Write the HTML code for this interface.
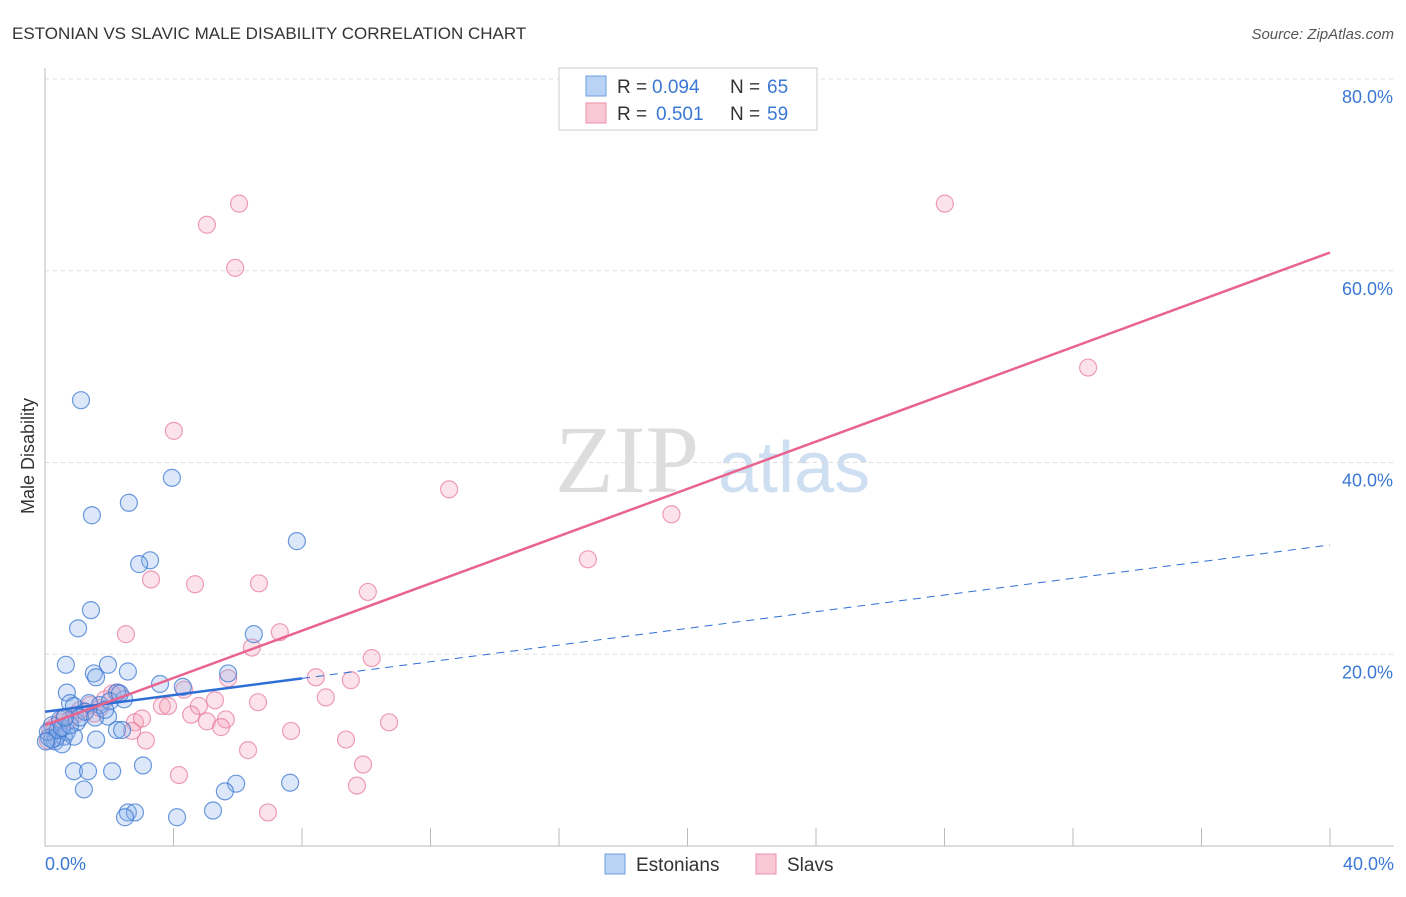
<!DOCTYPE html>
<html><head><meta charset="utf-8"><style>
body{margin:0;background:#fff;font-family:"Liberation Sans",sans-serif}
#wrap{position:relative;width:1406px;height:892px}
</style></head><body>
<div id="wrap">
<svg id="svg" width="1406" height="892">
<text x="12" y="39" font-size="17" fill="#333">ESTONIAN VS SLAVIC MALE DISABILITY CORRELATION CHART</text>
<text x="1394" y="39" font-size="15" fill="#555" text-anchor="end" font-style="italic">Source: ZipAtlas.com</text>
<text x="555" y="492" font-size="96" fill="#ddd" font-family="Liberation Serif">ZIP</text>
<text x="718" y="492" font-size="72" fill="#cfdff2">atlas</text>
<text transform="translate(34,456) rotate(-90)" font-size="18" fill="#333" text-anchor="middle">Male Disability</text>
<g id="grid"></g><g id="pts"></g><g id="lines"></g>
<g>
<rect x="559" y="68" width="258" height="62" fill="#fff" stroke="#ccc"/>
<rect x="586" y="76" width="20" height="20" fill="#b9d3f4" stroke="#6a9fe0"/>
<rect x="586" y="103" width="20" height="20" fill="#f9c8d6" stroke="#ec8fab"/>
<text x="617" y="93" font-size="19" fill="#333">R =</text>
<text x="652" y="93" font-size="19" fill="#3a78d4">0.094</text>
<text x="730" y="93" font-size="19" fill="#333">N =</text>
<text x="767" y="93" font-size="19" fill="#3a78d4">65</text>
<text x="617" y="120" font-size="19" fill="#333">R =</text>
<text x="656" y="120" font-size="19" fill="#3a78d4">0.501</text>
<text x="730" y="120" font-size="19" fill="#333">N =</text>
<text x="767" y="120" font-size="19" fill="#3a78d4">59</text>
</g>
<g>
<rect x="605" y="854" width="20" height="20" fill="#b9d3f4" stroke="#6a9fe0"/>
<text x="636" y="871" font-size="19" fill="#333">Estonians</text>
<rect x="756" y="854" width="20" height="20" fill="#f9c8d6" stroke="#ec8fab"/>
<text x="787" y="871" font-size="19" fill="#333">Slavs</text>
</g>
<text x="45" y="870" font-size="18" fill="#3a78d4">0.0%</text>
<text x="1394" y="870" font-size="18" fill="#3a78d4" text-anchor="end">40.0%</text>
</svg></div>
<script>
const yTicks=[20,40,60,80];
const xTickVals=[0,4,8,12,16,20,24,28,32,36,40];
const blueX=[1.12,3.95,2.61,1.46,7.84,3.27,2.93,1.43,1.03,6.5,0.65,1.96,1.52,2.58,5.7,1.59,3.58,4.29,0.68,0.78,1.37,2.46,2.24,0.9,1.96,0.22,0.47,0.99,2.24,2.4,0.59,0.12,0.34,0.68,0.9,1.59,0.31,0.53,0.22,0.9,1.34,2.09,3.05,1.21,5.95,5.6,7.63,2.58,2.8,2.49,4.11,5.23,0.09,0.4,1.25,1.71,0.53,0.78,2.02,2.33,0.03,1.09,0.62,1.56,1.87];
const blueY=[46.5,38.4,35.8,34.5,31.8,29.8,29.4,24.6,22.7,22.1,18.9,18.9,18.0,18.2,18.0,17.6,16.9,16.6,16.0,14.9,14.9,15.3,16.0,14.6,13.5,12.6,13.2,12.9,12.1,12.1,11.4,11.3,11.3,11.9,11.4,11.1,10.9,10.6,11.1,7.8,7.8,7.8,8.4,5.9,6.5,5.7,6.6,3.5,3.5,3.0,3.0,3.7,11.9,12.1,14.0,14.7,12.3,12.6,15.1,15.9,10.9,13.4,13.4,13.4,14.2];
const pinkX=[6.04,5.04,28.01,5.92,4.01,32.47,12.58,19.5,16.9,3.3,4.67,6.66,10.05,2.52,7.31,6.44,10.17,8.43,9.52,5.7,4.33,2.27,8.74,5.29,6.63,3.64,3.83,2.09,4.79,4.55,5.04,5.63,2.8,3.02,10.71,5.48,2.71,7.66,3.14,9.37,6.32,9.9,4.17,9.71,6.94,1.53,1.25,0.78,0.47,0.31,0.16,0.4,0.59,0.93,1.71,1.87,1.09,1.4,0.09];
const pinkY=[67.0,64.8,67.0,60.3,43.3,49.9,37.2,34.6,29.9,27.8,27.3,27.4,26.5,22.1,22.3,20.7,19.6,17.6,17.3,17.5,16.3,16.0,15.5,15.2,15.0,14.6,14.6,15.9,14.6,13.7,13.0,13.2,12.9,13.3,12.9,12.4,12.0,12.0,11.0,11.1,10.0,8.5,7.4,6.3,3.5,13.8,14.0,13.2,12.9,12.5,12.1,11.6,13.4,13.7,14.4,15.3,14.2,14.7,11.0];
const blueLine=[14.0,31.4], pinkLine=[12.6,61.9];
const X=v=>45+v/40*1285, Y=v=>846-v/80*767;
const NS="http://www.w3.org/2000/svg";
function mk(t,a,p){const e=document.createElementNS(NS,t);for(const k in a)e.setAttribute(k,a[k]);p.appendChild(e);return e;}
const grid=document.getElementById('grid');
yTicks.forEach(t=>{
 const l=mk('line',{x1:45,x2:1394,y1:Y(t),y2:Y(t),stroke:'#ddd','stroke-dasharray':'4,4'},grid);
 
 
 const tx=mk('text',{x:1393,y:Y(t)+24,'font-size':18,fill:'#3a78d4','text-anchor':'end'},grid);
 tx.textContent=t.toFixed(1)+'%';
 
 
});
mk('line',{x1:45,x2:45,y1:68,y2:846,stroke:'#bbb'},grid);
mk('line',{x1:45,x2:1394,y1:846,y2:846,stroke:'#bbb'},grid);
xTickVals.forEach(t=>{const k=mk('line',{x1:X(t),x2:X(t),y1:828,y2:846,stroke:'#bbb'},grid);
 
 });
const pts=document.getElementById('pts');
function draw(xs,ys,f,s,name){xs.forEach((x,i)=>{const c=mk('circle',{cx:X(x),cy:Y(ys[i]),r:8.5,fill:f,stroke:s,'stroke-width':1.2},pts);
 
 });}
draw(pinkX,pinkY,'rgba(244,160,185,0.3)','rgba(230,120,155,0.7)','slav-point');
draw(blueX,blueY,'rgba(140,180,235,0.3)','rgba(60,120,210,0.75)','estonian-point');
const ln=document.getElementById('lines');
const bAt=x=>blueLine[0]+(blueLine[1]-blueLine[0])*x/40;
const b1=mk('line',{x1:X(0),y1:Y(bAt(0)),x2:X(8),y2:Y(bAt(8)),stroke:'#2e6fd6','stroke-width':2.5},ln);


const b2=mk('line',{x1:X(8),y1:Y(bAt(8)),x2:X(40),y2:Y(bAt(40)),stroke:'#2e6fd6','stroke-width':1,'stroke-dasharray':'8,6'},ln);


const p1=mk('line',{x1:X(0),y1:Y(pinkLine[0]),x2:X(40),y2:Y(pinkLine[1]),stroke:'#e8648f','stroke-width':2.5},ln);


</script></body></html>
